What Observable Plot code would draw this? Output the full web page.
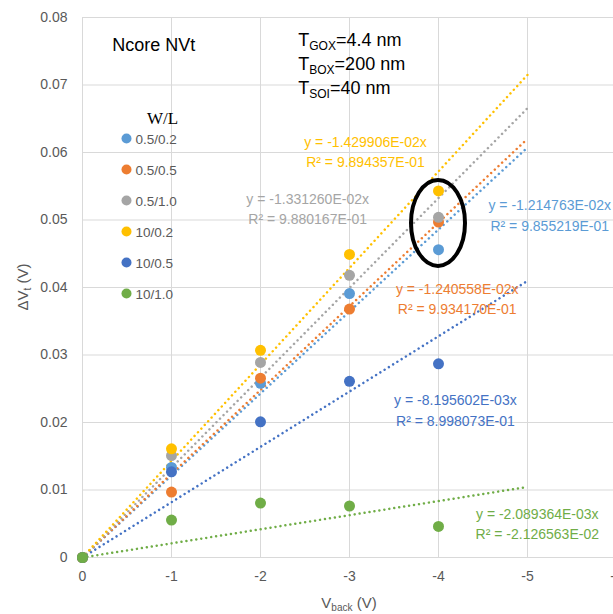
<!DOCTYPE html>
<html><head><meta charset="utf-8">
<script src="https://cdn.jsdelivr.net/npm/d3@7"></script>
<script src="https://cdn.jsdelivr.net/npm/@observablehq/plot@0.6"></script>
<style>
html,body{margin:0;padding:0;overflow:hidden;background:#fff;}
#chart svg{max-width:none !important;display:block;}
</style></head><body><div id="chart"></div>
<script>
// ---- data ----
const vback = [0, -1, -2, -3, -4];
const seriesNames = ["0.5/0.2", "0.5/0.5", "0.5/1.0", "10/0.2", "10/0.5", "10/1.0"];
const seriesColors = ["#5B9BD5", "#ED7D31", "#A5A5A5", "#FFC000", "#4472C4", "#70AD47"];
const dv_05_02 = [0, 0.01335, 0.0258, 0.0391, 0.0456];
const dv_05_05 = [0, 0.0097, 0.02656, 0.0368, 0.0497];
const dv_05_10 = [0, 0.0151, 0.0289, 0.0418, 0.0504];
const dv_10_02 = [0, 0.0161, 0.0307, 0.0449, 0.0543];
const dv_10_05 = [0, 0.0127, 0.0201, 0.0261, 0.0287];
const dv_10_10 = [0, 0.00555, 0.00807, 0.00763, 0.0046];
const slopes = [-1.214763e-2, -1.240558e-2, -1.331260e-2, -1.429906e-2, -8.195602e-3, -2.089364e-3];
const slopeLabels = ["-1.214763E-02", "-1.240558E-02", "-1.331260E-02", "-1.429906E-02", "-8.195602E-03", "-2.089364E-03"];
const r2Labels = ["9.855219E-01", "9.934170E-01", "9.880167E-01", "9.894357E-01", "8.998073E-01", "-2.126563E-02"];
const labelX = [-5.25, -4.21, -2.53, -3.18, -4.19, -5.11];
const labelY = [0.0509, 0.0385, 0.0519, 0.0603, 0.0220, 0.00522];
const trendRange = [0, -5];
const xTicks = [0, -1, -2, -3, -4, -5, -6];
const yTicks = [0, 0.01, 0.02, 0.03, 0.04, 0.05, 0.06, 0.07, 0.08];
const titleText = "Ncore NVt";
const titleAt = [-0.34, 0.0750];
const paramLines = [["T", "GOX", "=4.4 nm"], ["T", "BOX", "=200 nm"], ["T", "SOI", "=40 nm"]];
const paramAt = [-2.43, 0.0757];
const legendTitle = "W/L";
const legendAt = [-0.5, 0.0620];
const ellipseAt = [-4, 0.0495];
const xLabel = ["V", "back", " (V)"];
const yLabel = ["ΔV", "t", " (V)"];

// ---- build tables ----
const values = [dv_05_02, dv_05_05, dv_05_10, dv_10_02, dv_10_05, dv_10_10];
const points = seriesNames.flatMap((s, i) => vback.map((x, j) => ({series: s, x, y: values[i][j]})));
const trend = seriesNames.flatMap((s, i) => trendRange.map(x => ({series: s, x, y: slopes[i] * x})));
const labels = seriesNames.map((s, i) => ({series: s, x: labelX[i], y: labelY[i],
  text: `y = ${slopeLabels[i]}x\nR² = ${r2Labels[i]}`}));

const font = "'Liberation Sans', Arial, sans-serif";
const plot = Plot.plot({
  width: 640, height: 614,
  marginLeft: 82, marginRight: 24, marginTop: 17, marginBottom: 57,
  style: {fontFamily: font, background: "#fff", color: "#595959", overflow: "visible"},
  x: {domain: [0, -6], label: null},
  y: {domain: [0, 0.08], label: null},
  color: {domain: seriesNames, range: seriesColors},
  marks: [
    Plot.gridX(xTicks, {stroke: "#d9d9d9", strokeOpacity: 1, strokeWidth: 1}),
    Plot.gridY(yTicks, {stroke: "#d9d9d9", strokeOpacity: 1, strokeWidth: 1}),
    Plot.axisX(xTicks, {tickSize: 0, tickPadding: 14, fontSize: 14, tickFormat: d => String(d), label: null}),
    Plot.axisY(yTicks, {tickSize: 0, tickPadding: 15, fontSize: 14, tickFormat: d => d === 0 ? "0" : d.toFixed(2), label: null}),
    Plot.line(trend, {x: "x", y: "y", z: "series", stroke: "series", strokeWidth: 2.5,
      strokeDasharray: "0.01 5", strokeLinecap: "round"}),
    Plot.dot(points, {x: "x", y: "y", fill: "series", r: 5.5}),
    Plot.text(labels, {x: "x", y: "y", text: "text", fill: "series", fontSize: 14, lineHeight: 1.45})
  ]
});
document.getElementById("chart").appendChild(plot);

// ---- annotations ----
const sx = plot.scale("x"), sy = plot.scale("y");
const svg = d3.select(plot);
const g = svg.append("g").attr("text-anchor", "start");

g.append("text").attr("x", sx.apply(titleAt[0])).attr("y", sy.apply(titleAt[1]))
  .attr("text-anchor", "start")
  .attr("font-family", font).attr("font-size", 18).attr("fill", "#000").text(titleText);

paramLines.forEach((p, i) => {
  const t = g.append("text").attr("x", sx.apply(paramAt[0])).attr("y", sy.apply(paramAt[1]) + i * 24)
    .attr("text-anchor", "start")
    .attr("font-family", font).attr("font-size", 18).attr("fill", "#000");
  t.append("tspan").text(p[0]);
  t.append("tspan").attr("font-size", 12).attr("dy", 4).text(p[1]);
  t.append("tspan").attr("dy", -4).text(p[2]);
});

const lx = sx.apply(legendAt[0]), ly = sy.apply(legendAt[1]);
g.append("text").attr("x", lx + 36).attr("y", ly - 15).attr("text-anchor", "middle")
  .attr("font-family", "'Liberation Serif', 'Times New Roman', serif").attr("font-size", 17).attr("fill", "#000")
  .text(legendTitle);
seriesNames.forEach((s, i) => {
  g.append("circle").attr("cx", lx).attr("cy", ly + i * 31).attr("r", 5).attr("fill", seriesColors[i]);
  g.append("text").attr("x", lx + 9).attr("y", ly + i * 31 + 5).attr("text-anchor", "start")
    .attr("font-family", font).attr("font-size", 13.5).attr("fill", "#595959").text(s);
});

g.append("ellipse").attr("cx", sx.apply(ellipseAt[0])).attr("cy", sy.apply(ellipseAt[1]))
  .attr("rx", 27).attr("ry", 43).attr("fill", "none").attr("stroke", "#000").attr("stroke-width", 4);

const xl = g.append("text").attr("x", (sx.apply(0) + sx.apply(-6)) / 2).attr("y", 608)
  .attr("text-anchor", "middle").attr("font-family", font).attr("font-size", 15).attr("fill", "#595959");
xl.append("tspan").text(xLabel[0]);
xl.append("tspan").attr("font-size", 10).attr("dy", 3).text(xLabel[1]);
xl.append("tspan").attr("dy", -3).text(xLabel[2]);

const ycy = (sy.apply(0) + sy.apply(0.08)) / 2;
const yl = g.append("text").attr("transform", `translate(28,${ycy}) rotate(-90)`)
  .attr("text-anchor", "middle").attr("font-family", font).attr("font-size", 15).attr("fill", "#595959");
yl.append("tspan").text(yLabel[0]);
yl.append("tspan").attr("font-size", 10).attr("dy", 3).text(yLabel[1]);
yl.append("tspan").attr("dy", -3).text(yLabel[2]);
</script></body></html>
